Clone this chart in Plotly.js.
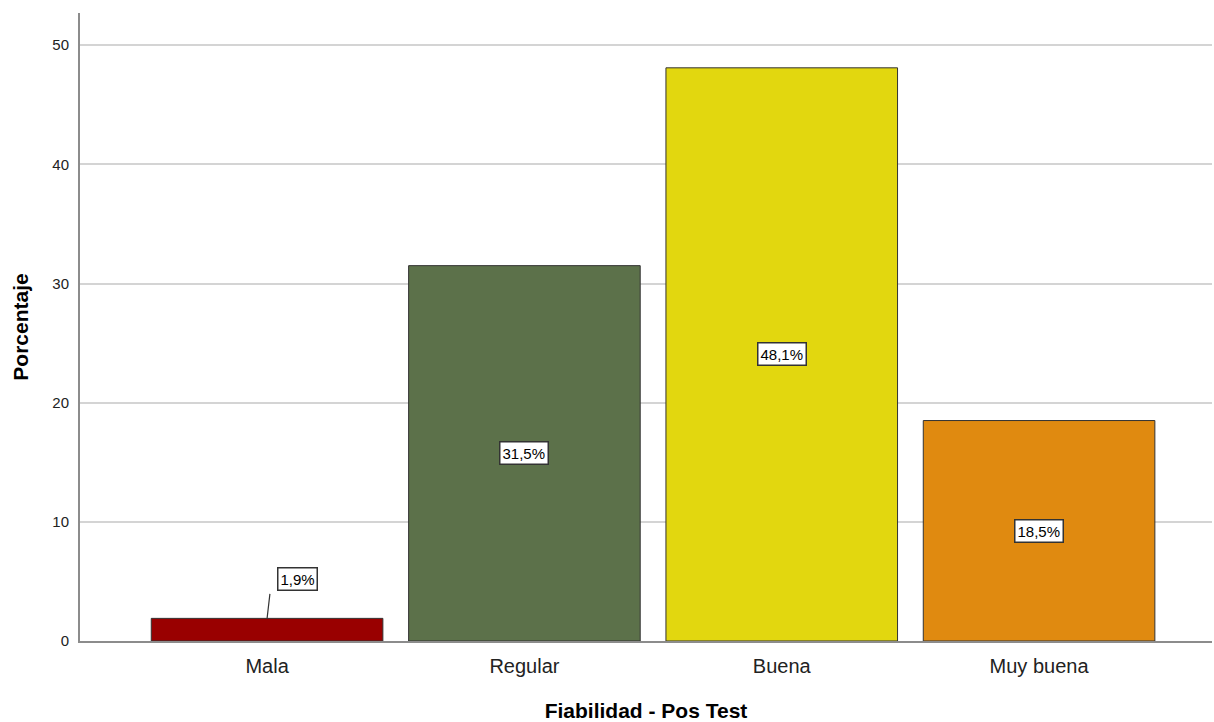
<!DOCTYPE html>
<html>
<head>
<meta charset="utf-8">
<script src="https://cdn.plot.ly/plotly-3.0.1.min.js"></script>
<style>html,body{margin:0;padding:0;background:#fff;}#chart{width:1214px;height:722px;}</style>
</head>
<body>
<div id="chart"></div>
<script>
var categories = ['Mala', 'Regular', 'Buena', 'Muy buena'];
var percentages = [1.9, 31.5, 48.1, 18.5];
var labels = ['1,9%', '31,5%', '48,1%', '18,5%'];
var colors = ['#990000', '#5C714A', '#E2D70F', '#E08A10'];
var yTicks = [0, 10, 20, 30, 40, 50];

var trace = {
  type: 'bar',
  x: categories,
  y: percentages,
  width: 0.9,
  marker: {color: colors, line: {color: '#333333', width: 1}},
  hoverinfo: 'none'
};

var annotations = [];
for (var i = 0; i < categories.length; i++) {
  var small = percentages[i] < 5;
  annotations.push({
    x: categories[i],
    y: small ? percentages[i] : percentages[i] / 2,
    xref: 'x', yref: 'y',
    text: labels[i],
    showarrow: false,
    xshift: small ? 30 : 0,
    yshift: small ? 39 : 0,
    bgcolor: '#ffffff',
    bordercolor: '#333333',
    borderwidth: 1.5,
    borderpad: 2,
    font: {family: 'Liberation Sans, Arial, sans-serif', size: 15, color: '#000'}
  });
  if (small) {
    annotations.push({
      x: categories[i],
      y: percentages[i],
      xref: 'x', yref: 'y',
      text: '',
      showarrow: true,
      arrowhead: 0,
      arrowwidth: 1.2,
      arrowcolor: '#333333',
      ax: 3,
      ay: -26,
      standoff: 0
    });
  }
}

var layout = {
  width: 1214,
  height: 722,
  margin: {l: 80, r: 2, t: 13, b: 81},
  paper_bgcolor: '#ffffff',
  plot_bgcolor: '#ffffff',
  showlegend: false,
  bargap: 0.1,
  font: {family: 'Liberation Sans, Arial, sans-serif', color: '#000'},
  xaxis: {
    range: [-0.727, 3.672],
    showgrid: false,
    showline: true,
    linecolor: '#8c8c8c',
    linewidth: 2,
    ticks: '',
    ticklabelstandoff: 6,
    tickfont: {size: 20, color: '#222'},
    title: {text: '<b>Fiabilidad - Pos Test</b>', font: {size: 21, color: '#000'}, standoff: 28},
    fixedrange: true
  },
  yaxis: {
    range: [0, 52.7],
    tickvals: yTicks,
    ticktext: yTicks.map(String),
    showgrid: true,
    gridcolor: '#d4d4d4',
    gridwidth: 2,
    showline: true,
    linecolor: '#8c8c8c',
    linewidth: 2,
    zeroline: false,
    ticks: '',
    ticklabelstandoff: 6,
    tickfont: {size: 15, color: '#222'},
    title: {text: '<b>Porcentaje</b>', font: {size: 21, color: '#000'}, standoff: 18},
    fixedrange: true
  },
  annotations: annotations
};

Plotly.newPlot('chart', [trace], layout, {displayModeBar: false, staticPlot: true});
</script>
</body>
</html>
